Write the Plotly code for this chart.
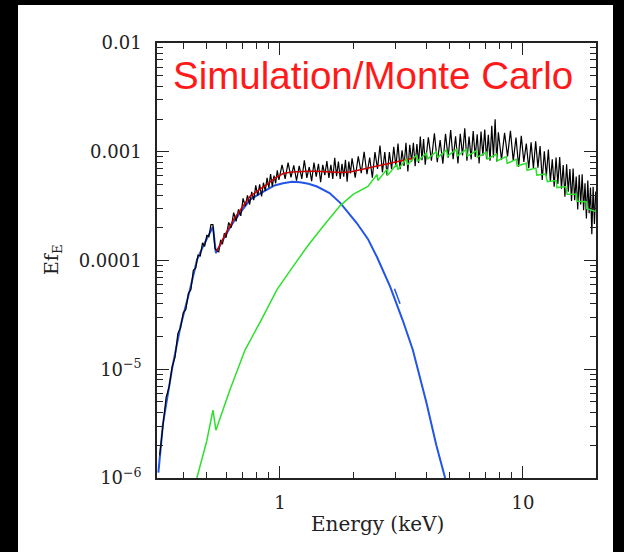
import plotly.graph_objects as go

# ---------------- data ----------------
data_energy = [
    0.32, 0.33, 0.34, 0.35, 0.36, 0.37, 0.38, 0.39, 0.40, 0.41, 0.42, 0.43, 0.44, 0.45, 0.46,
    0.47, 0.48, 0.49, 0.50, 0.51, 0.52, 0.53, 0.54, 0.55, 0.56, 0.57, 0.58, 0.59, 0.60,
    0.615, 0.63, 0.645, 0.66, 0.675, 0.69, 0.705, 0.72, 0.735, 0.75, 0.765, 0.78, 0.795, 0.81,
    0.825, 0.84, 0.855, 0.87, 0.885, 0.90, 0.915, 0.93, 0.945, 0.96, 0.975, 0.99,
    1.02, 1.05, 1.08, 1.11, 1.14, 1.17, 1.20, 1.23, 1.26, 1.29, 1.32, 1.35, 1.38, 1.41, 1.44,
    1.47, 1.50, 1.53, 1.56, 1.59, 1.62, 1.65, 1.68, 1.71, 1.74, 1.77, 1.80, 1.83, 1.86, 1.89,
    1.92, 1.95, 1.98,
    2.04, 2.10, 2.16, 2.22, 2.28, 2.34, 2.40, 2.46, 2.52, 2.58, 2.64, 2.70, 2.76, 2.82, 2.88,
    2.94, 3.00, 3.06, 3.12, 3.18, 3.24, 3.30, 3.36, 3.42, 3.48, 3.54, 3.60, 3.66, 3.72, 3.78,
    3.84, 3.90, 3.96,
    4.08, 4.20, 4.32, 4.44, 4.56, 4.68, 4.80, 4.92, 5.04, 5.16, 5.28, 5.40, 5.52, 5.64, 5.76,
    5.88, 6.00, 6.12, 6.24, 6.36, 6.48, 6.60, 6.72, 6.84, 6.96, 7.08, 7.20, 7.32, 7.44, 7.56,
    7.68, 7.80, 7.92,
    8.16, 8.40, 8.64, 8.88, 9.12, 9.36, 9.60, 9.84, 10.08, 10.32, 10.56, 10.80, 11.04, 11.28,
    11.52, 11.76, 12.00, 12.24, 12.48, 12.72, 12.96, 13.20, 13.44, 13.68, 13.92, 14.16, 14.40,
    14.64, 14.88, 15.12, 15.36, 15.60, 15.84, 16.08, 16.32, 16.56, 16.80, 17.04, 17.28, 17.52,
    17.76, 18.00, 18.24, 18.48, 18.72, 18.96, 19.20, 19.44, 19.68, 19.92,
]
data_flux = [
    1.62e-6, 3.02e-6, 5.50e-6, 6.92e-6, 1.05e-5, 1.29e-5, 2.14e-5, 2.40e-5, 3.31e-5, 3.55e-5,
    5.01e-5, 5.37e-5, 8.13e-5, 8.51e-5, 1.12e-4, 1.10e-4, 1.45e-4, 1.35e-4, 1.70e-4, 1.66e-4,
    2.14e-4, 2.14e-4, 1.29e-4, 1.23e-4, 1.20e-4, 1.55e-4, 1.41e-4, 1.78e-4, 1.62e-4,
    2.24e-4, 2.00e-4, 2.75e-4, 2.29e-4, 2.95e-4, 2.57e-4, 3.72e-4, 3.16e-4, 3.98e-4, 3.27e-4,
    4.27e-4, 3.59e-4, 4.90e-4, 3.94e-4, 5.01e-4, 3.89e-4, 5.19e-4, 4.37e-4, 5.75e-4, 4.68e-4,
    6.24e-4, 4.79e-4, 6.03e-4, 5.13e-4, 6.76e-4, 5.50e-4,
    7.59e-4, 5.62e-4, 7.94e-4, 5.82e-4, 7.50e-4, 5.43e-4, 7.41e-4, 5.62e-4, 8.32e-4, 5.75e-4,
    7.24e-4, 5.37e-4, 7.94e-4, 5.89e-4, 7.76e-4, 5.25e-4, 7.59e-4, 6.10e-4, 8.22e-4, 5.75e-4,
    7.59e-4, 5.62e-4, 8.81e-4, 5.96e-4, 8.13e-4, 5.62e-4, 7.76e-4, 5.89e-4, 8.41e-4, 5.31e-4,
    8.13e-4, 6.31e-4, 8.71e-4,
    5.79e-4, 9.06e-4, 6.34e-4, 1.00e-3, 6.21e-4, 8.85e-4, 5.78e-4, 9.93e-4, 6.95e-4, 1.14e-3,
    6.47e-4, 9.91e-4, 6.04e-4, 9.91e-4, 6.92e-4, 1.11e-3, 7.24e-4, 1.19e-3, 6.92e-4, 1.03e-3,
    7.40e-4, 1.21e-3, 6.59e-4, 1.16e-3, 8.09e-4, 1.21e-3, 7.38e-4, 1.18e-3, 7.87e-4, 1.38e-3,
    8.38e-4, 1.31e-3, 7.59e-4,
    1.36e-3, 8.28e-4, 1.48e-3, 8.02e-4, 1.28e-3, 7.76e-4, 1.46e-3, 8.83e-4, 1.58e-3, 8.53e-4,
    1.39e-3, 7.82e-4, 1.46e-3, 9.23e-4, 1.64e-3, 8.28e-4, 1.38e-3, 8.51e-4, 1.55e-3, 8.95e-4,
    1.45e-3, 7.82e-4, 1.53e-3, 9.20e-4, 1.60e-3, 8.63e-4, 1.43e-3, 8.26e-4, 1.73e-3, 8.87e-4,
    1.99e-3, 8.13e-4, 1.51e-3,
    8.45e-4, 1.49e-3, 9.06e-4, 1.56e-3, 8.24e-4, 1.35e-3, 7.28e-4, 1.40e-3, 8.07e-4, 1.19e-3,
    7.05e-4, 1.22e-3, 7.05e-4, 1.25e-3, 7.14e-4, 1.13e-3, 5.50e-4, 1.01e-3, 5.97e-4, 1.05e-3,
    5.28e-4, 8.51e-4, 4.76e-4, 8.83e-4, 5.06e-4, 8.95e-4, 4.57e-4, 7.55e-4, 3.85e-4, 7.66e-4,
    4.29e-4, 6.92e-4, 3.53e-4, 7.01e-4, 3.58e-4, 5.92e-4, 2.95e-4, 6.14e-4, 3.28e-4, 6.22e-4,
    2.90e-4, 5.13e-4, 2.44e-4, 5.44e-4, 2.72e-4, 4.70e-4, 1.74e-4, 4.76e-4, 2.17e-4, 4.31e-4,
]

total_energy = [0.55, 0.6, 0.65, 0.7, 0.753, 0.82, 0.884, 0.95, 1.03, 1.12, 1.21, 1.31, 1.42,
                1.6, 1.77, 1.94, 2.2, 2.45, 2.65, 3.0, 3.33, 3.6]
total_flux = [1.22e-4, 1.80e-4, 2.45e-4, 3.12e-4, 3.90e-4, 4.45e-4, 5.0e-4, 5.7e-4, 6.3e-4,
              6.5e-4, 6.6e-4, 6.6e-4, 6.6e-4, 6.5e-4, 6.45e-4, 6.5e-4, 6.9e-4, 7.3e-4,
              7.6e-4, 8.0e-4, 8.4e-4, 8.8e-4]

thermal_energy = [0.316, 0.33, 0.36, 0.39, 0.426, 0.456, 0.49, 0.515, 0.53, 0.545, 0.6, 0.65,
                  0.7, 0.753, 0.82, 0.884, 0.95, 1.03, 1.12, 1.21, 1.31, 1.42, 1.6, 1.77,
                  2.07, 2.3, 2.51, 2.84, 3.2, 3.52, 4.0, 4.4, 4.77, 4.85]
thermal_flux = [1.12e-6, 3.16e-6, 1.02e-5, 2.51e-5, 5.37e-5, 1.02e-4, 1.45e-4, 1.82e-4,
                2.04e-4, 1.17e-4, 1.74e-4, 2.34e-4, 2.95e-4, 3.63e-4, 4.07e-4, 4.47e-4,
                4.90e-4, 5.13e-4, 5.31e-4, 5.25e-4, 5.07e-4, 4.79e-4, 4.17e-4, 3.39e-4,
                2.21e-4, 1.58e-4, 1.07e-4, 5.75e-5, 2.82e-5, 1.51e-5, 5.0e-6, 2.0e-6,
                1.02e-6, 8.0e-7]
thermal2_energy = [2.96, 3.12]
thermal2_flux = [5.5e-5, 4.0e-5]

comp_energy = [0.455, 0.50, 0.53, 0.545, 0.62, 0.718, 0.835, 0.972, 1.12, 1.29, 1.50, 1.77,
               2.00, 2.30, 2.51, 2.53, 2.76, 2.78, 3.03, 3.05, 3.32, 3.35, 3.65, 3.68, 4.01,
               4.05, 4.41, 4.45, 4.85, 4.89, 5.33, 5.37, 5.85, 5.90, 6.43, 6.49, 7.07, 7.13,
               7.77, 7.83, 8.53, 8.61, 9.38, 9.46, 10.3, 10.4, 11.3, 11.4, 12.4, 12.6, 13.7,
               13.8, 15.0, 15.2, 16.6, 16.7, 18.2, 18.3, 20.0]
comp_flux = [1.0e-6, 2.2e-6, 4.2e-6, 2.75e-6, 6.3e-6, 1.5e-5, 2.8e-5, 5.4e-5, 8.5e-5, 1.33e-4,
             2.04e-4, 3.2e-4, 4.06e-4,
             4.79e-4, 6.17e-4, 5.43e-4, 6.92e-4, 6.10e-4, 7.76e-4, 6.84e-4, 8.61e-4, 7.59e-4,
             9.33e-4, 8.17e-4, 9.77e-4, 8.55e-4, 1.01e-3, 8.83e-4, 1.04e-3, 9.10e-4, 1.05e-3,
             9.16e-4, 1.05e-3, 9.12e-4, 1.02e-3, 8.91e-4, 9.89e-4, 8.57e-4, 9.51e-4, 8.24e-4,
             9.02e-4, 7.80e-4, 8.51e-4, 7.41e-4, 7.85e-4, 6.76e-4, 7.08e-4, 6.10e-4, 6.24e-4,
             5.31e-4, 5.43e-4, 4.68e-4, 4.79e-4, 4.07e-4, 4.07e-4, 3.51e-4, 3.47e-4, 2.99e-4,
             2.82e-4]

x_major = [1, 10]
x_major_text = ["1", "10"]
x_minor = [0.4, 0.5, 0.6, 0.7, 0.8, 0.9, 2, 3, 4, 5, 6, 7, 8, 9, 20]
y_major = [1e-6, 1e-5, 1e-4, 1e-3, 1e-2]
y_major_text = ["10<sup>−6</sup>", "10<sup>−5</sup>", "0.0001", "0.001", "0.01"]
y_minor = [m * d for d in (1e-6, 1e-5, 1e-4, 1e-3) for m in range(2, 10)]

title_text = "Simulation/Monte Carlo"
x_title = "Energy (keV)"
y_title = "Ef<sub>E</sub>"

# ---------------- figure ----------------
W, H = 624, 552
L, R, T, B = 157, 28, 43, 74
pw, ph = W - L - R, H - T - B

def px(xp):
    return (xp - L) / pw

def py(yp):
    return (H - B - yp) / ph

fig = go.Figure()
fig.add_trace(go.Scatter(x=thermal_energy, y=thermal_flux, mode="lines",
                         line=dict(color="#2255e8", width=2), hoverinfo="skip"))
fig.add_trace(go.Scatter(x=thermal2_energy, y=thermal2_flux, mode="lines",
                         line=dict(color="#2255e8", width=1.5), hoverinfo="skip"))
fig.add_trace(go.Scatter(x=data_energy, y=data_flux, mode="lines",
                         line=dict(color="black", width=1.2), hoverinfo="skip"))
fig.add_trace(go.Scatter(x=total_energy, y=total_flux, mode="lines",
                         line=dict(color="#d00000", width=1.5), hoverinfo="skip"))
fig.add_trace(go.Scatter(x=comp_energy, y=comp_flux, mode="lines",
                         line=dict(color="#2ee02e", width=1.5), hoverinfo="skip"))

serif = "DejaVu Serif"
axis_common = dict(
    type="log", showgrid=False, zeroline=False, showline=True, linecolor="#222",
    linewidth=1.5, mirror="allticks", ticks="inside", ticklen=12, tickwidth=1.2,
    tickcolor="#222", tickfont=dict(family=serif, size=18, color="#222"),
)

fig.update_layout(
    width=W, height=H, autosize=False,
    margin=dict(l=L, r=R, t=T, b=B, pad=0),
    paper_bgcolor="black", plot_bgcolor="white",
    showlegend=False,
    xaxis=dict(**axis_common, range=[-0.506, 1.3005], tickvals=x_major,
               ticktext=x_major_text, ticklabelstandoff=8,
               minor=dict(tickvals=x_minor, ticks="inside", ticklen=6, tickwidth=1,
                          tickcolor="#222")),
    yaxis=dict(**axis_common, range=[-6, -2], tickvals=y_major, ticktext=y_major_text,
               ticklabelstandoff=10,
               minor=dict(tickvals=y_minor, ticks="inside", ticklen=6, tickwidth=1,
                          tickcolor="#222")),
    shapes=[dict(type="rect", xref="paper", yref="paper", layer="below",
                 x0=px(18), x1=px(613), y0=py(552), y1=py(5),
                 fillcolor="white", line=dict(width=0))],
    annotations=[
        dict(text=title_text, xref="paper", yref="paper", x=px(171), y=py(75),
             xanchor="left", yanchor="middle", showarrow=False,
             font=dict(family="Liberation Sans", size=38.5, color="#ff1a1a")),
        dict(text=x_title, xref="paper", yref="paper", x=px(377), y=py(524),
             xanchor="center", yanchor="middle", showarrow=False,
             font=dict(family=serif, size=20, color="#222")),
        dict(text=y_title, xref="paper", yref="paper", x=px(52), y=py(260),
             xanchor="center", yanchor="middle", showarrow=False, textangle=-90,
             font=dict(family=serif, size=19, color="#222")),
    ],
)

fig.write_html("out.html")
